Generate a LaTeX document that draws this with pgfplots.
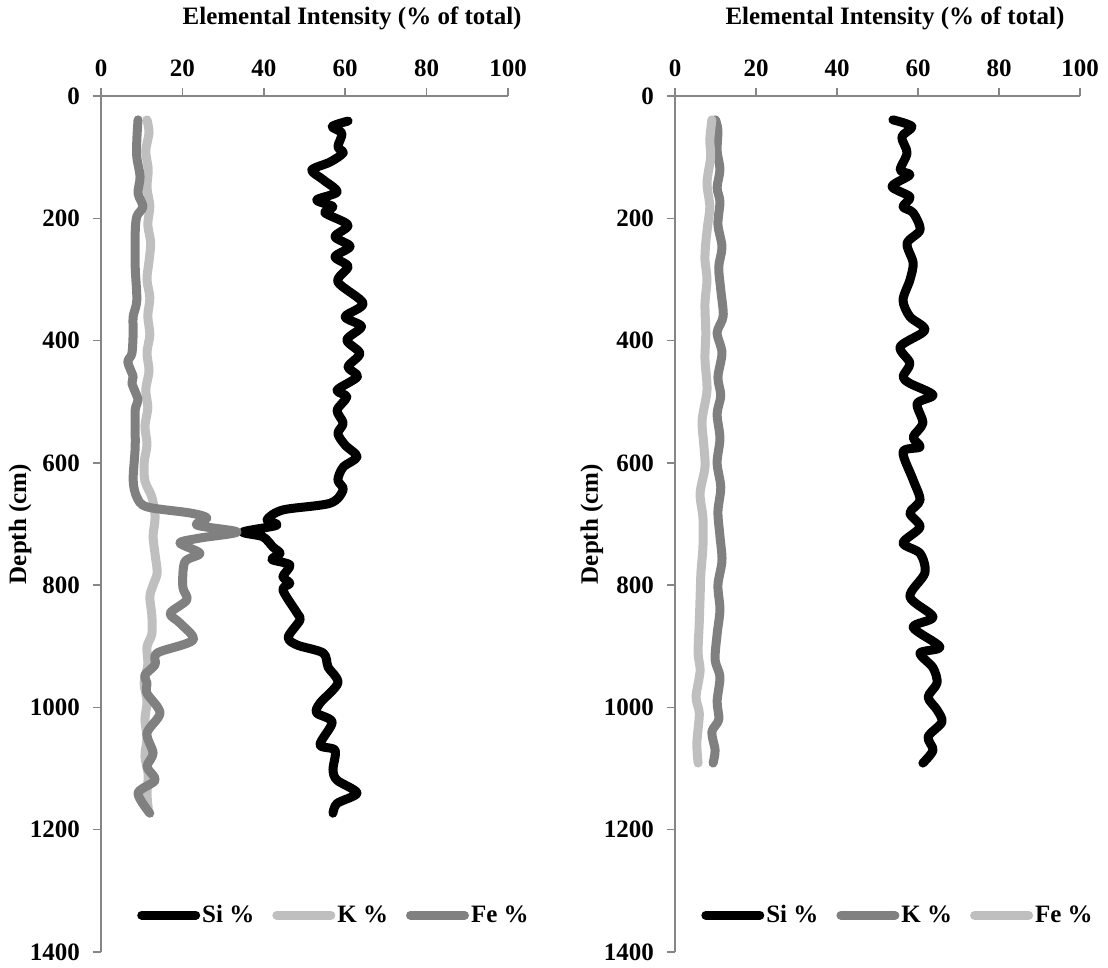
\documentclass[border=0pt]{standalone}
\usepackage{pgfplots}
\pgfplotsset{compat=1.18}
\usepackage{fontspec}
\setmainfont{Liberation Serif}
\definecolor{axgray}{RGB}{134,134,134}
\definecolor{lgray}{RGB}{191,191,191}
\definecolor{dgray}{RGB}{128,128,128}
\pgfplotsset{
  depthaxis/.style={
    scale only axis,
    height=428pt,
    xmin=0, xmax=100, ymin=0, ymax=1400,
    y dir=reverse,
    axis x line*=top, axis y line*=left,
    axis line style={axgray, line width=0.75pt, -},
    every tick/.style={axgray, line width=0.75pt},
    tick align=outside,
    major tick length=4pt,
    xtick={0,20,...,100}, ytick={0,200,...,1400},
    font=\fontsize{12.5}{14}\selectfont\bfseries,
    /pgf/number format/assume math mode=true,
    /pgf/number format/1000 sep={},
    xticklabel style={yshift=2pt},
    yticklabel style={xshift=-3pt},
    xlabel={Elemental Intensity (\% of total)},
    ylabel={Depth (cm)},
    legend columns=3,
    legend style={draw=none, fill=none, inner sep=0pt, anchor=west,
      font=\fontsize{12.5}{14}\selectfont\bfseries,
      nodes={inner xsep=1pt, inner ysep=1pt},
      /tikz/every even column/.append style={column sep=8pt}},
    legend image code/.code={\draw[#1, line cap=round] (0pt,0pt) -- (27pt,0pt);},
    every axis plot/.append style={line width=4.5pt, line join=round, line cap=round, smooth, tension=0.5},
  }
}
\begin{document}
\begin{tikzpicture}
\useasboundingbox (0,-8pt) rectangle (554pt,476pt);
\begin{axis}[depthaxis, width=203.5pt, at={(50.5pt,0pt)}, anchor=south west,
  xlabel style={at={(axis description cs:0.617,1)}, anchor=center, yshift=39pt},
  ylabel style={at={(axis description cs:-0.199,0.5)}, anchor=center},
  legend style={at={(axis description cs:0.088,0.043)}}]
\addplot[black] coordinates {
(60.7,41) (56.8,50) (59.2,61) (58.2,83) (59.5,93) (56.3,108) (51.8,121) (54.6,137) (58,157) (53,170) (57,181) (55,191) (60.7,211) (57.5,230) (61.2,246) (57.5,263) (60.7,279) (58.2,304) (64.4,339) (60,361) (64,377) (60.4,399) (63.6,421) (60.7,443) (63,459) (58,481) (60.4,492) (58,514) (59.5,535) (58.2,552) (60,571) (62.9,590) (59.5,607) (58.2,628) (59.5,644) (56.3,666) (44.7,677) (40.8,693) (43.2,702) (34.9,713) (39.8,721) (42.3,738) (44,748) (42,758) (46.4,767) (44.7,786) (46.4,797) (44.7,808) (48.2,846) (48.9,857) (46,885) (48.2,898) (54.6,911) (55.8,934) (58.2,960) (53.8,993) (53,1009) (56.8,1024) (53.8,1061) (57.5,1070) (57,1102) (58,1119) (62.9,1140) (58,1157) (57,1173)
};
\addlegendentry{Si \%}
\addplot[lgray] coordinates {
(11.3,39) (11.8,60) (11.0,90) (11.6,120) (11.3,150) (12.0,180) (11.5,210) (12.2,240) (11.8,270) (11.3,300) (12.0,330) (11.5,360) (12.0,390) (11.3,420) (11.8,450) (11.0,480) (11.5,510) (10.8,540) (11.3,570) (10.6,600) (10.8,630) (12.5,656) (13.3,688) (12.8,720) (13.3,750) (13.8,780) (12.8,800) (12.0,819) (12.5,850) (12.5,880) (11.3,901) (11.5,930) (10.6,960) (11.3,990) (10.8,1020) (11.3,1050) (10.8,1080) (11.6,1110) (11.3,1140) (11.6,1165)
};
\addlegendentry{K \%}
\addplot[dgray] coordinates {
(9.1,39) (8.8,72) (8.8,100) (9.6,132) (9.1,159) (10.3,181) (8.8,197) (8.4,224) (8.4,279) (8.8,334) (7.9,361) (7.9,388) (7.6,421) (6.6,435) (7.9,459) (7.6,470) (9.1,497) (8.4,514) (8.4,574) (7.9,628) (8.8,656) (11.3,672) (21.9,682) (26,690) (23.6,702) (33.4,713) (24.3,723) (19.4,731) (24.3,748) (20.6,762) (20.1,803) (21.1,824) (17,846) (19.4,862) (22.6,890) (13.8,911) (13.3,930) (10.8,947) (11.3,960) (11.3,977) (14.5,1009) (11.3,1042) (12.8,1075) (11.3,1097) (13.3,1119) (9.1,1140) (12,1173)
};
\addlegendentry{Fe \%}
\end{axis}
\begin{axis}[depthaxis, width=202.5pt, at={(337.5pt,0pt)}, anchor=south west,
  xlabel style={at={(axis description cs:0.543,1)}, anchor=center, yshift=39pt},
  ylabel style={at={(axis description cs:-0.205,0.5)}, anchor=center},
  legend style={at={(axis description cs:0.064,0.043)}}]
\addplot[black] coordinates {
(53.8,39) (58.5,50) (56,67) (57.3,93) (55.6,121) (58,129) (53.6,148) (58,165) (56.3,181) (58.8,191) (60.5,219) (57.3,241) (58.8,273) (58,301) (56.3,334) (58,361) (61.7,383) (55.6,410) (58,437) (56.3,459) (58,470) (63.7,489) (59.8,503) (61.2,535) (58.8,558) (60.5,574) (56.3,582) (58.8,628) (60.5,661) (58,682) (60.5,705) (56.3,731) (60.5,748) (61.7,780) (58,819) (63.7,852) (58.8,869) (65.4,901) (60.5,911) (63.7,935) (64.7,960) (62.5,983) (64.7,1004) (65.9,1024) (62.5,1048) (63.7,1070) (61.2,1091)
};
\addlegendentry{Si \%}
\addplot[dgray] coordinates {
(10,39) (10.6,56) (10.4,90) (11.1,120) (10.4,150) (11.1,173) (10.6,210) (11.6,247) (10.8,280) (11.3,317) (11.9,360) (10.4,387) (11.6,420) (10.6,460) (11.3,490) (10.4,520) (11.1,560) (10.4,600) (11.3,640) (10.6,680) (11.1,720) (11.6,760) (10.6,800) (11.1,840) (10.4,880) (9.9,922) (11.1,950) (10.4,990) (10.8,1020) (9.1,1040) (9.9,1070) (9.4,1091)
};
\addlegendentry{K \%}
\addplot[lgray] coordinates {
(9.1,39) (8.6,72) (8.8,100) (7.9,142) (8.6,180) (8.1,210) (7.6,240) (7.4,268) (7.9,300) (7.4,340) (7.6,388) (7.4,430) (7.9,481) (6.7,530) (7.1,570) (7.4,607) (6.2,650) (6.9,690) (6.9,737) (6.4,780) (6.2,819) (6.0,860) (5.7,911) (6.2,940) (5.2,983) (6.0,1010) (5.4,1058) (5.7,1091)
};
\addlegendentry{Fe \%}
\end{axis}
\end{tikzpicture}
\end{document}
